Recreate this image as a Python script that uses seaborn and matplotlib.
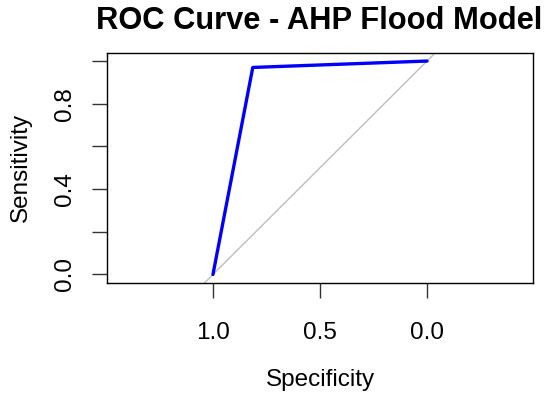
import numpy as np
import pandas as pd
import seaborn as sns
import matplotlib
matplotlib.use("Agg")
import matplotlib.pyplot as plt

# ROC points (specificity, sensitivity)
specificity = [1.0, 0.814, 0.0]
sensitivity = [0.0, 0.970, 1.0]
x_ticks = [1.0, 0.5, 0.0]
x_tick_labels = ["1.0", "0.5", "0.0"]
y_ticks = [0.0, 0.2, 0.4, 0.6, 0.8, 1.0]
y_tick_labels = ["0.0", "", "0.4", "", "0.8", ""]

roc = pd.DataFrame({"Specificity": specificity, "Sensitivity": sensitivity})

sns.set_theme(style="white")
plt.rcParams["font.family"] = ["Liberation Sans", "DejaVu Sans"]
plt.rcParams["text.color"] = "black"
plt.rcParams["axes.labelcolor"] = "black"

fig = plt.figure(figsize=(5.5, 3.95), dpi=100)
ax = fig.add_axes([107 / 550, 1 - 283 / 395, 426 / 550, 230.5 / 395])

# chance diagonal
ax.axline((1, 0), (0, 1), color="#BEBEBE", lw=1.0, zorder=1)
sns.lineplot(data=roc, x="Specificity", y="Sensitivity", color="#0000FF", lw=2.4,
             sort=False, estimator=None, ax=ax, zorder=2)

ax.set_xlim(1.495, -0.495)
ax.set_ylim(-0.04, 1.04)
ax.set_xticks(x_ticks)
ax.set_xticklabels(x_tick_labels)
ax.set_yticks(y_ticks)
ax.set_yticklabels(y_tick_labels, rotation=90, va="center")

for s in ax.spines.values():
    s.set_color("black")
    s.set_linewidth(1.0)

ax.tick_params(axis="both", which="major", direction="out", length=11, width=1,
               color="#333333", labelsize=17.5, labelcolor="black",
               bottom=True, left=True)
ax.tick_params(axis="x", pad=17)
ax.tick_params(axis="y", pad=11)

ax.set_xlabel("Specificity", fontsize=17.5, labelpad=18)
ax.set_ylabel("Sensitivity", fontsize=17.5, labelpad=16)
fig.text(0.581, 0.948, "ROC Curve - AHP Flood Model", ha="center", va="center",
         fontsize=22.2, fontweight="bold")

fig.savefig("out.png", dpi=100)
